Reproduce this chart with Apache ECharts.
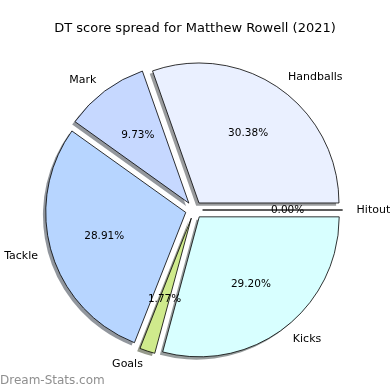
<!DOCTYPE html>
<html>
<head>
<meta charset="utf-8">
<script src="https://cdn.jsdelivr.net/npm/echarts@6/dist/echarts.min.js"></script>
<style>html,body{margin:0;padding:0;background:#fff}#c{width:390px;height:390px}</style>
</head>
<body>
<div id="c"></div>
<script>
const categories = ['Handballs', 'Mark', 'Tackle', 'Goals', 'Kicks', 'Hitout'];
const values = [30.38, 9.73, 28.91, 1.77, 29.20, 0.00];
const colors = ['#eaf0ff', '#c6d8ff', '#b7d5ff', '#cfea8c', '#d8ffff', '#e8e8e8'];
const titleText = 'DT score spread for Matthew Rowell (2021)';
const watermark = 'Dream-Stats.com';

const FONT = 'DejaVu Sans';
const cx = 194, cy = 210, R = 140, EXPLODE = 8.6;

function shadowOf(hex) {
  const n = parseInt(hex.slice(1), 16);
  const r = Math.round(((n >> 16) & 255) * 0.3), g = Math.round(((n >> 8) & 255) * 0.3), b = Math.round((n & 255) * 0.3);
  return 'rgba(' + r + ',' + g + ',' + b + ',0.55)';
}

const common = {
  type: 'pie',
  startAngle: 0,
  clockwise: false,
  selectedMode: 'multiple',
  selectedOffset: EXPLODE,
  avoidLabelOverlap: false,
  silent: true,
  animation: false,
  emphasis: { disabled: true },
  labelLine: { show: false }
};

const chart = echarts.init(document.getElementById('c'), null, { renderer: 'canvas' });
chart.setOption({
  backgroundColor: '#ffffff',
  animation: false,
  title: {
    text: titleText, left: 'center', top: 17,
    textStyle: { fontFamily: FONT, fontSize: 13, fontWeight: 'normal', color: '#000' }
  },
  graphic: [{
    type: 'text', left: 0, bottom: 3,
    style: { text: watermark, fontFamily: FONT, fontSize: 12, fill: '#8f8f8f', fontWeight: 'normal' }
  }],
  series: [
    Object.assign({}, common, {
      name: 'shadow', z: 1,
      center: [cx - 2.8, cy + 2.8], radius: [0, R],
      label: { show: false },
      data: categories.map((c, i) => ({ name: c, value: values[i], selected: true,
        itemStyle: { color: shadowOf(colors[i]), borderWidth: 0 } }))
    }),
    Object.assign({}, common, {
      name: 'main', z: 2,
      center: [cx, cy], radius: [0, R],
      label: {
        show: true, position: 'outside', formatter: '{b}',
        fontFamily: FONT, fontSize: 11, color: '#000', distanceToLabelLine: 0
      },
      labelLine: { show: false, length: R * 0.1, length2: 0 },
      data: categories.map((c, i) => ({ name: c, value: values[i], selected: true,
        itemStyle: { color: colors[i], borderColor: '#000', borderWidth: 0.8 } }))
    }),
    Object.assign({}, common, {
      name: 'pct', z: 3,
      center: [cx, cy], radius: [R * 0.2 - 4, R],
      label: {
        show: true, position: 'inside',
        formatter: p => values[p.dataIndex].toFixed(2) + '%',
        fontFamily: FONT, fontSize: 10.5, color: '#000'
      },
      data: categories.map((c, i) => ({ name: c, value: values[i], selected: true,
        itemStyle: { color: 'rgba(0,0,0,0)', borderWidth: 0 } }))
    })
  ]
});
</script>
</body>
</html>
